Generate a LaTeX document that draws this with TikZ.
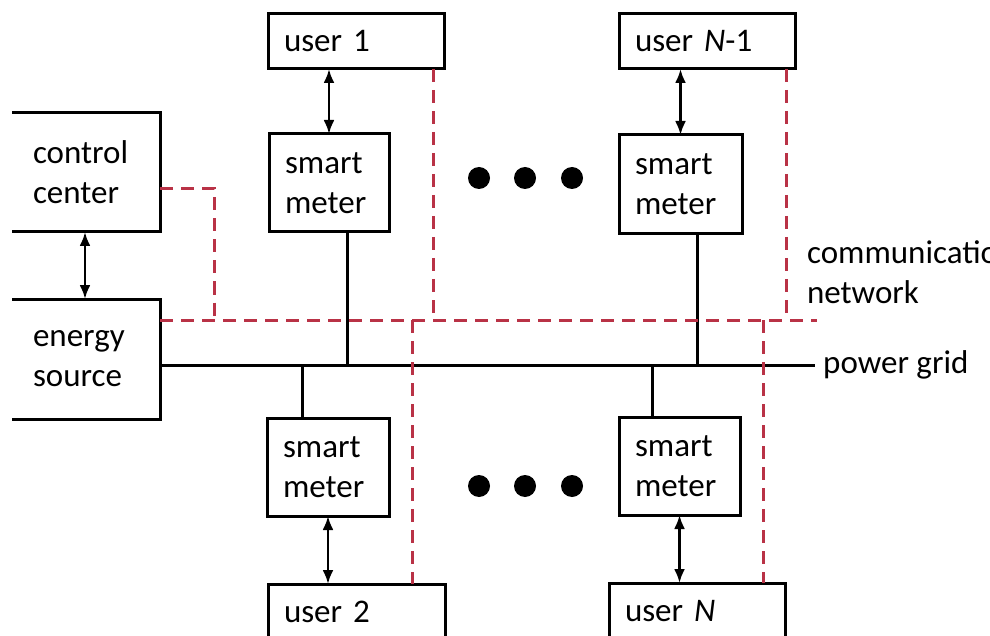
\documentclass[tikz,border=0pt]{standalone}
\usepackage{fontspec}
\setmainfont{Carlito}
\usetikzlibrary{arrows.meta}
\definecolor{netred}{RGB}{185,50,70}

\begin{document}
\begin{tikzpicture}[x=0.5pt,y=-0.5pt,
		font=\fontsize{16.5}{20}\selectfont,
		box/.style={draw,line width=1.5pt,outer sep=0pt,anchor=north west,align=left,inner xsep=8pt,inner ysep=0pt},
		link/.style={line width=1.3pt,{Latex[length=7pt,width=5.5pt]}-{Latex[length=7pt,width=5.5pt]}},
		pwr/.style={line width=1.5pt},
		comm/.style={draw=netred,line width=1.5pt,dash pattern=on 6.5pt off 4pt}]
		\useasboundingbox (0,0) rectangle (990,636);
		\clip (12,0) rectangle (990,636);
		\path
		(10,113) node[box,inner xsep=11.5pt,text width=52pt,minimum height=59.5pt](cc) {control\\center}
		(10,299) node[box,inner xsep=11.5pt,text width=52pt,minimum height=60pt](es) {energy\\source}
		(268,14) node[box,text width=72pt,minimum height=27.5pt](u1) {user 1}
		(269,134) node[box,text width=44pt,minimum height=49pt](sm1) {smart\\meter}
		(619,14) node[box,text width=72pt,minimum height=27.5pt](uN1) {user \textit{N}-1}
		(619,135) node[box,text width=45.5pt,minimum height=49.5pt](smN1) {smart\\meter}
		(267,418) node[box,text width=45pt,minimum height=49pt](sm2) {smart\\meter}
		(619,417) node[box,text width=44.5pt,minimum height=49pt](smN) {smart\\meter}
		(268,584) node[box,text width=72.5pt,minimum height=28pt](u2) {user 2}
		(609,583) node[box,text width=72pt,minimum height=28pt](uN) {user \textit{N}};
		% grid taps and network joints
		\coordinate (pg) at (815,365);
		\coordinate (t1) at (347,365);
		\coordinate (t2) at (697,365);
		\coordinate (t3) at (302,365);
		\coordinate (t4) at (652,365);
		\coordinate (cn) at (817,320);
		\coordinate (j1) at (214,320);
		\coordinate (j2) at (433,320);
		\coordinate (j3) at (412,320);
		\coordinate (j4) at (786,320);
		\coordinate (j5) at (763,320);
		\draw[link] (cc) to (es);
		\draw[link] (u1.south -| sm1.north) to (sm1.north);
		\draw[link] (uN1.south -| smN1.north) to (smN1.north);
		\draw[link] (sm2.south) to (u2.north -| sm2.south);
		\draw[link] (smN.south) to (uN.north -| smN.south);
		\draw[pwr] (es.east |- pg) -- (pg) node[right](pgl) {power grid};
		\draw[pwr] (sm1.south -| t1) -- (t1);
		\draw[pwr] (smN1.south -| t2) -- (t2);
		\draw[pwr] (t3) -- (sm2.north -| t3);
		\draw[pwr] (t4) -- (smN.north -| t4);
		\draw[comm] ([yshift=-8pt]cc.east) -| (j1);
		\draw[comm] (es.east |- cn) -- (cn);
		\draw[comm] (u1.south -| j2) -- (j2);
		\draw[comm] (j3) -- (u2.north -| j3);
		\draw[comm] (uN1.south -| j4) -- (j4);
		\draw[comm] (j5) -- (uN.north -| j5);
		\node[right,align=left](cnl) at (800,272) {communication\\network};
		\foreach \x in {479,525,572} {
			\fill (\x,178) circle[radius=5.5pt];
			\fill (\x,486) circle[radius=5.5pt];
		}
	\end{tikzpicture}
\end{document}
